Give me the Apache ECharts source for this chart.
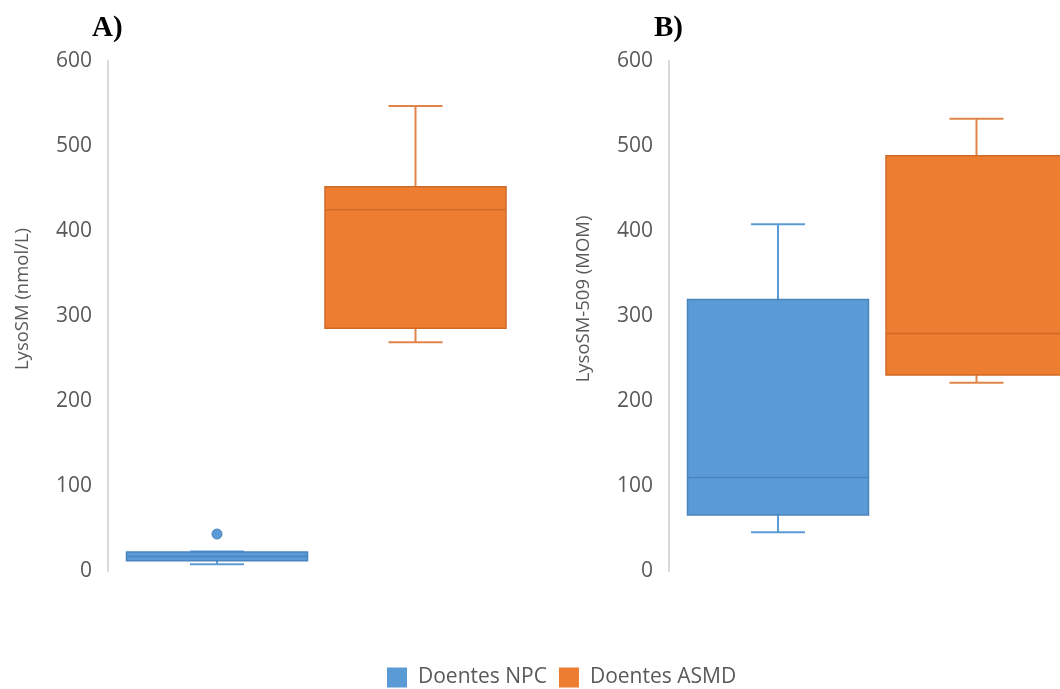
<!DOCTYPE html>
<html>
<head>
<meta charset="utf-8">
<script src="https://cdn.jsdelivr.net/npm/echarts@6/dist/echarts.min.js"></script>
<style>
  html, body { margin: 0; padding: 0; background: #fff; }
  #chart { width: 1060px; height: 689px; }
</style>
</head>
<body>
<div id="chart"></div>
<script>
// Box statistics: [low whisker, Q1, median, Q3, high whisker]
const groups = ['Doentes NPC', 'Doentes ASMD'];
const yTicks = [0, 100, 200, 300, 400, 500, 600];

// Panel A: LysoSM (nmol/L)
const lysoNPC = [8, 12, 17, 22.5, 23];
const lysoASMD = [269, 285.5, 425, 452, 547];
const lysoNPCOutliers = [43.5];
const lysoASMDOutliers = [];

// Panel B: LysoSM-509 (MOM)
const l509NPC = [45.5, 66, 110, 319.5, 408];
const l509ASMD = [221.5, 230.5, 279.5, 488.5, 532];
const l509NPCOutliers = [];
const l509ASMDOutliers = [];

const colors = {
  'Doentes NPC': { fill: '#5B9BD5', edge: '#4A84BE', whisker: '#5B9BD5' },
  'Doentes ASMD': { fill: '#ED7D31', edge: '#CF6A27', whisker: '#E0844A' }
};

// box geometry in pixels, measured from the left edge of the plot area
const slotCenter = { 'Doentes NPC': 109, 'Doentes ASMD': 307.5 };
const BOX_HALF = 90.5;
const CAP_HALF = 27;

function boxSeries(name, stats, outliers, gridIdx) {
  const c = colors[name];
  return {
    name: name,
    type: 'custom',
    xAxisIndex: gridIdx,
    yAxisIndex: gridIdx,
    clip: false,
    itemStyle: { color: c.fill },
    data: [[0].concat(stats)],
    encode: { x: 0, y: [1, 2, 3, 4, 5] },
    renderItem: function (params, api) {
      const band = api.size([1, 0])[0];
      const left = api.coord([0, 0])[0] - band / 2;
      const cx = left + slotCenter[name];
      const y = v => api.coord([0, v])[1];
      const half = BOX_HALF;
      const cap = CAP_HALF;
      const low = api.value(1), q1 = api.value(2), med = api.value(3),
            q3 = api.value(4), high = api.value(5);
      const lineStyle = { stroke: c.whisker, lineWidth: 2 };
      const children = [
        // whiskers
        { type: 'line', shape: { x1: cx, y1: y(q3), x2: cx, y2: y(high) }, style: lineStyle },
        { type: 'line', shape: { x1: cx - cap, y1: y(high), x2: cx + cap, y2: y(high) }, style: lineStyle },
        { type: 'line', shape: { x1: cx, y1: y(q1), x2: cx, y2: y(low) }, style: lineStyle },
        { type: 'line', shape: { x1: cx - cap, y1: y(low), x2: cx + cap, y2: y(low) }, style: lineStyle },
        // box
        { type: 'rect', shape: { x: cx - half, y: y(q3), width: 2 * half, height: y(q1) - y(q3) },
          style: { fill: c.fill, stroke: c.edge, lineWidth: 1.5 } },
        // median
        { type: 'line', shape: { x1: cx - half, y1: y(med), x2: cx + half, y2: y(med) },
          style: { stroke: c.edge, lineWidth: 1.5 } }
      ];
      (outliers || []).forEach(v => {
        children.push({ type: 'circle', shape: { cx: cx, cy: y(v), r: 5 },
          style: { fill: c.fill, stroke: c.edge, lineWidth: 1 } });
      });
      return { type: 'group', children: children };
    }
  };
}

const yAxisBase = {
  type: 'value',
  min: 0, max: 600, interval: 100,
  axisLine: { show: true, lineStyle: { color: '#d9d9d9', width: 2 } },
  axisTick: { show: false },
  splitLine: { show: false },
  axisLabel: { color: '#595959', fontSize: 21, fontFamily: 'Open Sans', margin: 16,
    formatter: v => (yTicks.indexOf(v) >= 0 ? String(v) : '') },
  nameLocation: 'middle',
  nameRotate: 90,
  nameTextStyle: { color: '#595959', fontSize: 18.5, fontFamily: 'Open Sans', padding: [0, 0, 0, 34] }
};

const chart = echarts.init(document.getElementById('chart'), null, { renderer: 'canvas' });
chart.setOption({
  backgroundColor: '#ffffff',
  animation: false,
  title: [
    { text: 'A)', left: 87, top: 9,
      textStyle: { fontFamily: 'Times New Roman, Liberation Serif', fontWeight: 'bold', fontSize: 29, color: '#000' } },
    { text: 'B)', left: 649, top: 9,
      textStyle: { fontFamily: 'Times New Roman, Liberation Serif', fontWeight: 'bold', fontSize: 29, color: '#000' } }
  ],
  legend: {
    data: groups,
    top: 667,
    left: 387,
    icon: 'rect',
    itemWidth: 20, itemHeight: 20,
    itemGap: 12,
    padding: 0,
    textStyle: { color: '#595959', fontSize: 21, fontFamily: 'Open Sans', padding: [0, 0, 0, 6] },
    itemStyle: { borderWidth: 0 }
  },
  grid: [
    { left: 108, width: 418, top: 61, height: 510 },
    { left: 669, width: 418, top: 61, height: 510 }
  ],
  xAxis: [
    { type: 'category', gridIndex: 0, data: [''], show: false },
    { type: 'category', gridIndex: 1, data: [''], show: false }
  ],
  yAxis: [
    Object.assign({}, yAxisBase, { gridIndex: 0, name: 'LysoSM (nmol/L)', nameGap: 76 }),
    Object.assign({}, yAxisBase, { gridIndex: 1, name: 'LysoSM-509 (MOM)', nameGap: 76 })
  ],
  series: [
    boxSeries('Doentes NPC', lysoNPC, lysoNPCOutliers, 0),
    boxSeries('Doentes ASMD', lysoASMD, lysoASMDOutliers, 0),
    boxSeries('Doentes NPC', l509NPC, l509NPCOutliers, 1),
    boxSeries('Doentes ASMD', l509ASMD, l509ASMDOutliers, 1)
  ]
});
</script>
</body>
</html>
